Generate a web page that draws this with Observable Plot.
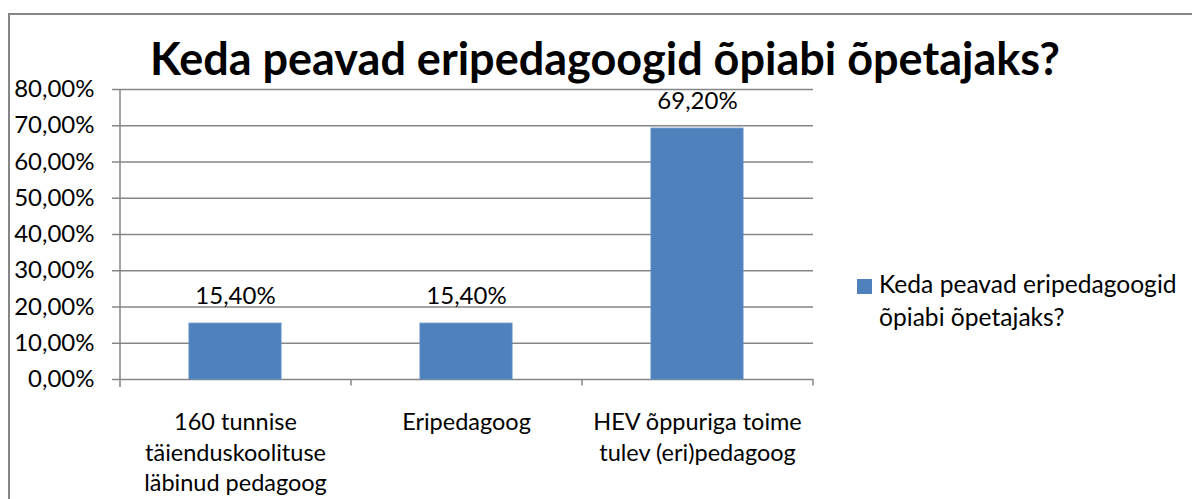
<!DOCTYPE html>
<html>
<head>
<meta charset="utf-8">
<script src="https://cdn.jsdelivr.net/npm/d3@7"></script>
<script src="https://cdn.jsdelivr.net/npm/@observablehq/plot@0.6"></script>
<style>
  html, body { margin: 0; padding: 0; background: #fff; }
  #wrap { position: relative; width: 1192px; height: 499px; overflow: hidden; font-family: Lato, "Open Sans", sans-serif; color: #000; }
  #frame { position: absolute; left: 8px; top: 13px; width: 1200px; height: 600px; border-left: 2px solid #868686; border-top: 2px solid #868686; }
  #title { position: absolute; left: 0; width: 1210px; top: 36px; text-align: center; font-weight: 700; font-size: 45px; line-height: 1; white-space: nowrap; }
  #legend { position: absolute; left: 857px; top: 267px; font-size: 24.6px; line-height: 33px; }
  #legend .sw { position: absolute; left: 0; top: 12px; width: 15px; height: 15px; background: #4F81BD; }
  #legend .tx { margin-left: 22px; white-space: nowrap; }
  #chart { position: absolute; left: 0; top: 0; }
</style>
</head>
<body>
<div id="wrap">
  <div id="frame"></div>
  <div id="chart"></div>
  <div id="title"></div>
  <div id="legend"><div class="sw"></div><div class="tx"></div></div>
</div>
<script>
const titleText = "Keda peavad eripedagoogid õpiabi õpetajaks?";
const seriesName = "Keda peavad eripedagoogid õpiabi õpetajaks?";
const categories = ["160 tunnise täienduskoolituse läbinud pedagoog", "Eripedagoog", "HEV õppuriga toime tulev (eri)pedagoog"];
const categoryLabels = ["160 tunnise\ntäienduskoolituse\nläbinud pedagoog", "Eripedagoog", "HEV õppuriga toime\ntulev (eri)pedagoog"];
const values = [0.154, 0.154, 0.692];
const yTicks = [0, 0.1, 0.2, 0.3, 0.4, 0.5, 0.6, 0.7, 0.8];
const legendLines = ["Keda peavad eripedagoogid", "õpiabi õpetajaks?"];

const pct = d => (d * 100).toFixed(2).replace(".", ",") + "%";
const data = categories.map((c, i) => ({cat: c, label: categoryLabels[i], value: values[i]}));

document.getElementById("title").textContent = titleText;
document.querySelector("#legend .tx").innerHTML = legendLines.join("<br>");

const W = 1192, H = 499;
const mL = 120, mR = 379, mT = 89, mB = 120;
const step = (W - mL - mR) / categories.length;
const grid = "#868686";

const plot = Plot.plot({
  width: W,
  height: H,
  marginLeft: mL,
  marginRight: mR,
  marginTop: mT,
  marginBottom: mB,
  style: {fontFamily: "Lato, 'Open Sans', sans-serif", fontSize: "24px", color: "#000", background: "transparent"},
  x: {type: "band", domain: categories, paddingInner: 0.6, paddingOuter: 0.3, axis: null},
  y: {domain: [0, 0.8], axis: null},
  marks: [
    Plot.ruleY(yTicks, {y: d => d, stroke: grid, strokeWidth: 1.5, insetLeft: -8}),
    Plot.text(yTicks, {y: d => d, text: d => pct(d), frameAnchor: "left", textAnchor: "end", dx: -26, fontSize: 24}),
    Plot.ruleX([0], {x: () => categories[0], dx: -step / 2, y1: 0.8, y2: -0.022, stroke: grid, strokeWidth: 1.5}),
    Plot.ruleX(categories, {x: d => d, dx: step / 2, y1: 0, y2: -0.018, stroke: grid, strokeWidth: 1.5}),
    Plot.barY(data, {x: "cat", y: "value", fill: "#4F81BD", stroke: "#5B8CC6", strokeWidth: 1}),
    Plot.text(data, {x: "cat", y: "value", text: d => pct(d.value), dy: -20, lineAnchor: "bottom", fontSize: 24}),
    Plot.text(data, {x: "cat", y: 0, text: "label", dy: 29, lineAnchor: "top", lineHeight: 1.3, fontSize: 23.5})
  ]
});
document.getElementById("chart").appendChild(plot);
</script>
</body>
</html>
